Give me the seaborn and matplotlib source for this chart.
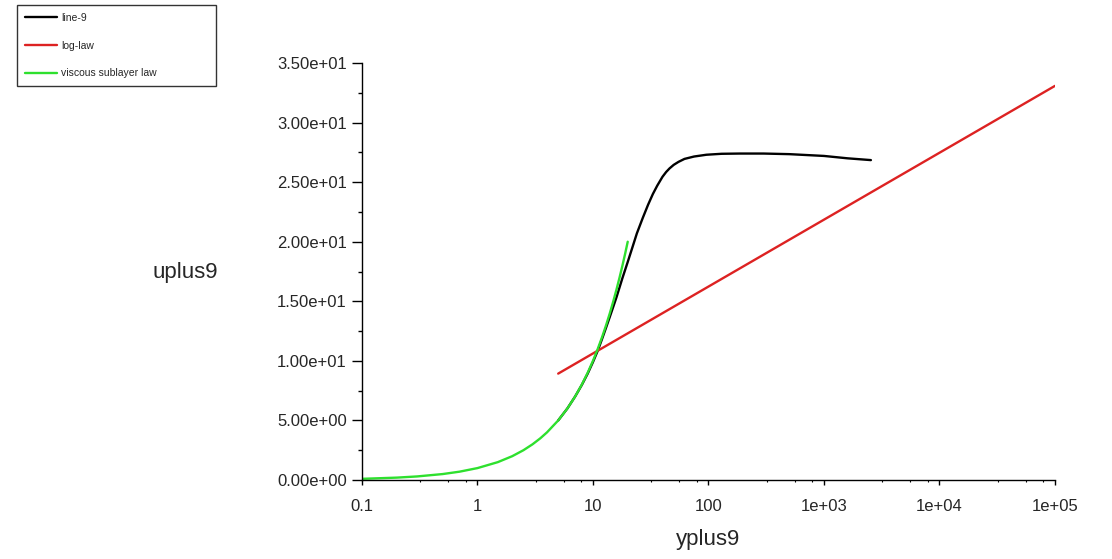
import numpy as np
import pandas as pd
import seaborn as sns
import matplotlib.pyplot as plt
from matplotlib.ticker import FixedLocator, FormatStrFormatter, MultipleLocator, LogLocator, NullFormatter

# data
line9_yplus = [5, 6, 7, 8, 9, 10, 11, 12, 13, 14, 15, 16, 18, 20, 22, 24, 27, 30, 33, 36,
               40, 43, 46, 50, 55, 62, 75, 96, 130, 187, 300, 500, 1000, 1600, 2550]
line9_uplus = [5, 6, 7, 7.97, 8.93, 9.9, 10.85, 11.85, 12.8, 13.7, 14.55, 15.35, 16.95, 18.3,
               19.55, 20.7, 22.0, 23.1, 24.0, 24.7, 25.45, 25.85, 26.15, 26.45, 26.7, 26.95,
               27.15, 27.3, 27.38, 27.4, 27.4, 27.35, 27.2, 27.0, 26.85]

loglaw_yplus = [5, 1e5]
loglaw_uplus = [8.93, 33.08]

visc_yplus = [0.1, 0.2, 0.3, 0.5, 0.7, 1, 1.5, 2, 2.5, 3, 3.5, 4, 5, 6, 7, 8, 9, 10,
              11, 12, 13, 14, 15, 16, 17, 18, 19, 20]
visc_uplus = [0.1, 0.2, 0.3, 0.5, 0.7, 1, 1.5, 2, 2.5, 3, 3.5, 4, 5, 6, 7, 8, 9, 10,
              11, 12, 13, 14, 15, 16, 17, 18, 19, 20]

xtick_vals = [0.1, 1, 10, 100, 1e3, 1e4, 1e5]
xtick_labels = ['0.1', '1', '10', '100', '1e+03', '1e+04', '1e+05']
xminor_subs = [3.2, 5.6, 7.9]

sns.set_style('white')
plt.rcParams['font.family'] = ['Liberation Sans', 'DejaVu Sans']

fig = plt.figure(figsize=(11.12, 5.59), dpi=100)
ax = fig.add_axes([0.3255, 0.1413, 0.9487 - 0.3255, 0.8873 - 0.1413])

sns.lineplot(x=line9_yplus, y=line9_uplus, ax=ax, color='black', lw=1.7, label='line-9')
sns.lineplot(x=loglaw_yplus, y=loglaw_uplus, ax=ax, color='#dd2222', lw=1.7, label='log-law')
sns.lineplot(x=visc_yplus, y=visc_uplus, ax=ax, color='#2ee02e', lw=1.7, label='viscous sublayer law')

ax.set_xscale('log')
ax.set_xlim(0.1, 1e5)
ax.set_ylim(0, 35)

ax.xaxis.set_major_locator(FixedLocator(xtick_vals))
ax.set_xticklabels(xtick_labels)
ax.xaxis.set_minor_locator(LogLocator(base=10, subs=xminor_subs))
ax.xaxis.set_minor_formatter(NullFormatter())
ax.yaxis.set_major_locator(MultipleLocator(5))
ax.yaxis.set_minor_locator(MultipleLocator(2.5))
ax.yaxis.set_major_formatter(FormatStrFormatter('%.2e'))

ax.tick_params(axis='x', which='major', direction='out', length=3.6, width=1, labelsize=12, pad=10, color='black')
ax.tick_params(axis='x', which='minor', direction='out', length=1.5, width=0.8, color='black')
ax.tick_params(axis='y', which='major', direction='out', length=7, width=1, labelsize=12, pad=4, color='black')
ax.tick_params(axis='y', which='minor', direction='out', length=3, width=1, color='black')
ax.tick_params(bottom=True, left=True, which='both')

for s in ['top', 'right']:
    ax.spines[s].set_visible(False)
for s in ['left', 'bottom']:
    ax.spines[s].set_color('black')
    ax.spines[s].set_linewidth(1)

ax.set_xlabel('')
ax.set_ylabel('')
fig.text(708 / 1112, 1 - 540 / 559, 'yplus9', ha='center', va='center', fontsize=16)
fig.text(185 / 1112, 1 - 272 / 559, 'uplus9', ha='center', va='center', fontsize=16)

ax.get_legend().remove()
handles, labels = ax.get_legend_handles_labels()
leg = fig.legend(handles, labels, loc='upper left',
                 bbox_to_anchor=(17 / 1112, 1 - 85 / 559, 199 / 1112, 80 / 559),
                 mode='expand', fontsize=7.5, frameon=True, fancybox=False, edgecolor='black',
                 handlelength=3.1, handletextpad=0.4, labelspacing=1.7,
                 borderpad=0.75, borderaxespad=0)
leg.get_frame().set_linewidth(1)

fig.savefig('out.png', dpi=100)
